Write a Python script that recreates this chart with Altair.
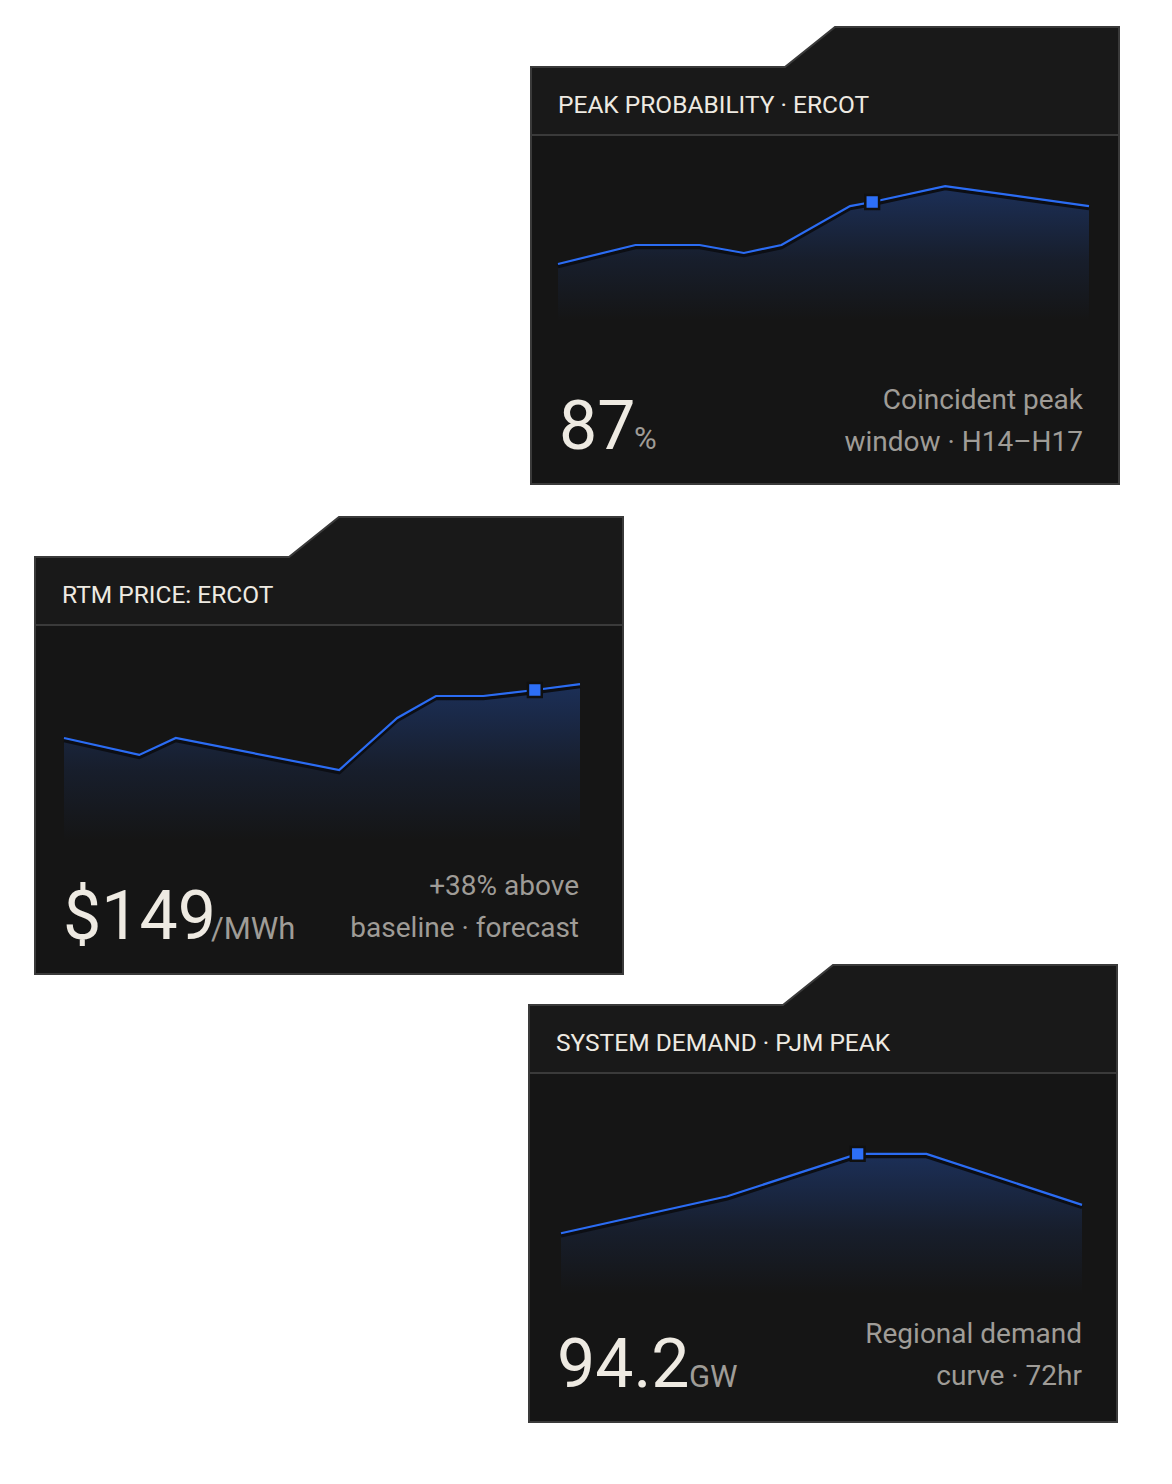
import altair as alt
import pandas as pd

# ---------------- data ----------------
peak_hour = [0, 3.5, 6.4, 8.4, 10.1, 13.2, 14.2, 17.5, 24]
peak_prob = [52.0, 62.7, 62.7, 58.2, 62.7, 84.7, 87.0, 96.0, 84.7]
peak_marker = 6

price_hour = [0, 3.5, 5.2, 12.8, 15.5, 17.3, 19.5, 21.9, 24]
price_usd = [103.2, 87.0, 103.2, 72.6, 122.3, 143.3, 143.3, 149.0, 154.7]
price_marker = 7

demand_hour = [0, 23, 41, 50.5, 72]
demand_gw = [80.5, 86.9, 94.2, 94.2, 85.4]
demand_marker = 2

titles = ["PEAK PROBABILITY · ERCOT", "RTM PRICE: ERCOT", "SYSTEM DEMAND · PJM PEAK"]
big_values = ["87", "$149", "94.2"]
units = ["%", "/MWh", "GW"]
notes = [["Coincident peak", "window · H14–H17"],
         ["+38% above", "baseline · forecast"],
         ["Regional demand", "curve · 72hr"]]

series = [(peak_hour, peak_prob, peak_marker),
          (price_hour, price_usd, price_marker),
          (demand_hour, demand_gw, demand_marker)]

# ---------------- layout (pixels, chart coordinates) ----------------
W, H = 1156, 1468
card_origin = [(522, 18), (26, 508), (520, 956)]
CARD_W, CARD_H = 590, 459
tab_x = [1, 255, 305, 589]
tab_top = [41, 41, 1, 1]
sep_y = 109
line_x_range = [(28, 559), (30, 546), (33, 554)]
y_domain = [(0, 100), (0, 160), (70, 100)]
y_range = [(330, 153), (330, 162.5), (330, 156.4)]
area_base = [295, 325, 330]
note_right = [553, 545, 554]
note_base = [(383, 425), (379, 421), (379, 421)]
unit_left = [104, 177, 161]

BORDER = "#3a3a3a"
HEAD_BG = "#191919"
BODY_BG = "#151515"
BLUE = "#2b6cf3"
CREAM = "#eeeae2"
GREY = "#9f9c97"
FONT = "Roboto"

# ---------------- decoration ----------------
shape_rows, body_rows, sep_rows = [], [], []
for i, (ox, oy) in enumerate(card_origin):
    for x, t in zip(tab_x, tab_top):
        shape_rows.append({"card": i, "x": ox + x, "y": oy + t, "y2": oy + CARD_H - 1})
    body_rows.append({"x": ox + 2, "x2": ox + CARD_W - 2, "y": oy + sep_y, "y2": oy + CARD_H - 2})
    sep_rows.append({"x": ox + 2, "x2": ox + CARD_W - 2, "y": oy + sep_y})

shape = alt.Chart(pd.DataFrame(shape_rows)).mark_area(
    fill=HEAD_BG, stroke=BORDER, strokeWidth=2, interpolate="linear"
).encode(
    x=alt.X("x:Q", scale=None, axis=None),
    y=alt.Y("y:Q", scale=None, axis=None, stack=None),
    y2="y2:Q",
    detail="card:N",
)
body = alt.Chart(pd.DataFrame(body_rows)).mark_rect(fill=BODY_BG).encode(
    x=alt.X("x:Q", scale=None, axis=None), x2="x2:Q",
    y=alt.Y("y:Q", scale=None, axis=None), y2="y2:Q",
)
sep = alt.Chart(pd.DataFrame(sep_rows)).mark_rule(color=BORDER, strokeWidth=2).encode(
    x=alt.X("x:Q", scale=None, axis=None), x2="x2:Q",
    y=alt.Y("y:Q", scale=None, axis=None),
)

layers = [shape, body, sep]

# ---------------- data layers ----------------
grad = alt.Gradient(
    gradient="linear",
    stops=[alt.GradientStop(color="rgba(43,108,243,0.30)", offset=0),
           alt.GradientStop(color="rgba(43,108,243,0.10)", offset=0.55),
           alt.GradientStop(color="rgba(43,108,243,0.0)", offset=1)],
    x1=1, x2=1, y1=0, y2=1,
)

for i, (xs, ys, mk) in enumerate(series):
    ox, oy = card_origin[i]
    df = pd.DataFrame({"t": xs, "v": ys})
    mdf = pd.DataFrame({"t": [xs[mk]], "v": [ys[mk]]})
    xsc = alt.Scale(domain=[xs[0], xs[-1]],
                    range=[ox + line_x_range[i][0], ox + line_x_range[i][1]])
    ysc = alt.Scale(domain=list(y_domain[i]),
                    range=[oy + y_range[i][0], oy + y_range[i][1]], zero=False)
    X = alt.X("t:Q", scale=xsc, axis=None)
    Y = alt.Y("v:Q", scale=ysc, axis=None, stack=None)
    base = alt.Chart(df)
    layers.append(base.mark_area(color=grad).encode(x=X, y=Y, y2=alt.value(oy + area_base[i])))
    layers.append(base.mark_line(color="#0c0e14", strokeWidth=3.5, yOffset=2.5).encode(x=X, y=Y))
    layers.append(base.mark_line(color=BLUE, strokeWidth=2.2).encode(x=X, y=Y))
    layers.append(alt.Chart(mdf).mark_square(size=190, color="#2d6ff7", opacity=1,
                                             stroke="#101010", strokeWidth=2.5).encode(x=X, y=Y))

# ---------------- texts ----------------
head_rows, big_rows, unit_rows, note_rows = [], [], [], []
for i, (ox, oy) in enumerate(card_origin):
    head_rows.append({"x": ox + 28, "y": oy + 86.5, "text": titles[i]})
    big_rows.append({"x": ox + 29, "y": oy + 423, "text": big_values[i]})
    unit_rows.append({"x": ox + unit_left[i], "y": oy + 423, "text": units[i]})
    note_rows.append({"x": ox + note_right[i], "y": oy + note_base[i][0], "text": notes[i][0]})
    note_rows.append({"x": ox + note_right[i], "y": oy + note_base[i][1], "text": notes[i][1]})


def text_layer(rows, **kw):
    return alt.Chart(pd.DataFrame(rows)).mark_text(font=FONT, baseline="alphabetic", **kw).encode(
        x=alt.X("x:Q", scale=None, axis=None),
        y=alt.Y("y:Q", scale=None, axis=None),
        text="text:N",
    )


layers.append(text_layer(head_rows, align="left", fontSize=24.5, color=CREAM))
layers.append(text_layer(big_rows, align="left", fontSize=68, fontWeight=400, color=CREAM))
layers.append(text_layer(unit_rows, align="left", fontSize=31, color=GREY))
layers.append(text_layer(note_rows, align="right", fontSize=28, color=GREY))

chart = alt.layer(*layers).resolve_scale(x="independent", y="independent").properties(
    width=W, height=H, padding=0, autosize="none", background="white"
).configure_view(stroke=None)

chart.save("out.html", embed_options={"renderer": "svg", "actions": False})
